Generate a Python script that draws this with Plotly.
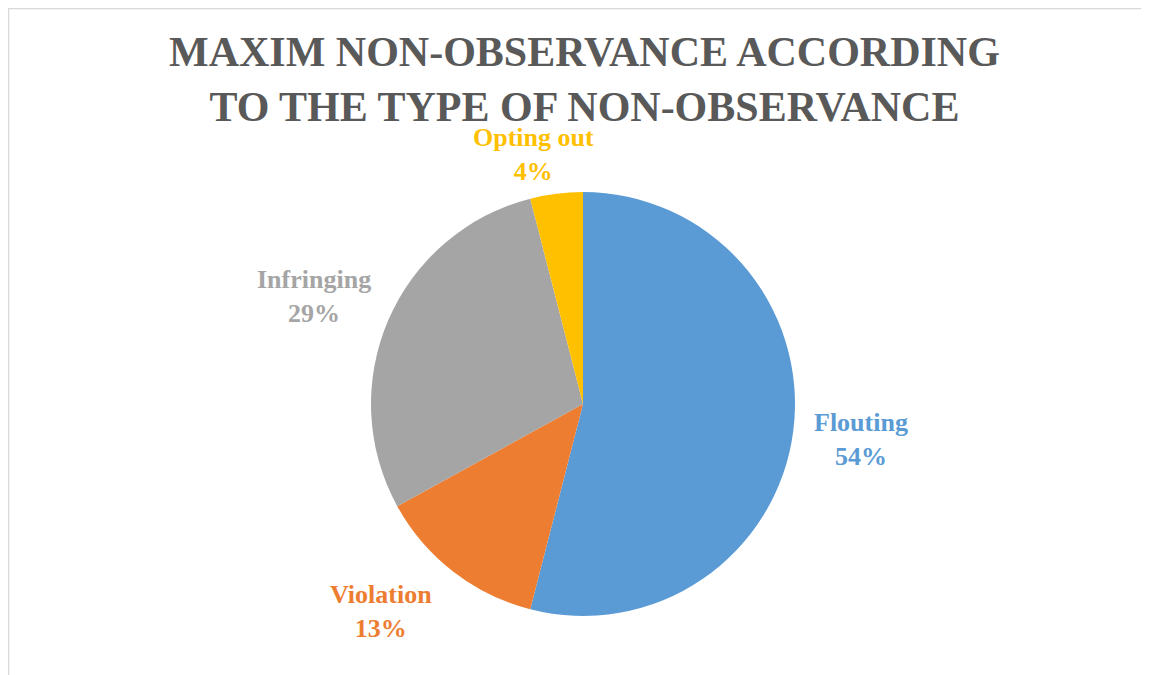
import math
import plotly.graph_objects as go

# ---- data ----
categories = ["Flouting", "Violation", "Infringing", "Opting out"]
values = [54, 13, 29, 4]
colors = ["#5B9BD5", "#ED7D31", "#A5A5A5", "#FFC000"]
title_text = "MAXIM NON-OBSERVANCE ACCORDING<br>TO THE TYPE OF NON-OBSERVANCE"

# ---- layout constants (pixels, relative to the figure) ----
W, H = 1149, 675
CX, CY, R = 575, 396, 212
label_dist = [280, 289, 290, 256]
label_nudge = [(0, 0), (-25, -21), (-2.5, 8), (-17, 4)]

fig = go.Figure()
fig.add_trace(go.Pie(
    labels=categories,
    values=values,
    sort=False,
    direction="clockwise",
    rotation=0,
    marker=dict(colors=colors, line=dict(width=0)),
    textinfo="none",
    hoverinfo="label+percent",
    showlegend=False,
    domain=dict(x=[(CX - R) / W, (CX + R) / W], y=[1 - (CY + R) / H, 1 - (CY - R) / H]),
))

total = sum(values)
cum = 0
annotations = []
for i, (cat, v, col) in enumerate(zip(categories, values, colors)):
    mid = (cum + v / 2) / total * 2 * math.pi
    cum += v
    dx, dy = math.sin(mid), -math.cos(mid)
    px = CX + label_dist[i] * dx + label_nudge[i][0]
    py = CY + label_dist[i] * dy + label_nudge[i][1]
    pct = round(v / total * 100)
    annotations.append(dict(
        x=px / W, y=1 - py / H, xref="paper", yref="paper",
        text=f"{cat}<br>{pct}%", showarrow=False,
        xanchor="center", yanchor="middle", align="center",
        font=dict(family="Liberation Serif", size=26, color=col, weight="bold"),
    ))

fig.update_layout(
    width=W, height=H,
    margin=dict(l=0, r=0, t=0, b=0),
    paper_bgcolor="white",
    plot_bgcolor="white",
    title=dict(
        text=title_text,
        x=0.5017, xanchor="center",
        y=1 - 58 / H, yanchor="top", yref="container",
        font=dict(family="Liberation Serif", size=42, color="#595959", weight="bold"),
    ),
    annotations=annotations,
    shapes=[dict(
        type="rect", xref="paper", yref="paper",
        x0=0.3 / W, y0=-0.05, x1=1.05, y1=1 - 0.3 / H,
        line=dict(color="#D9D9D9", width=2),
        fillcolor="rgba(0,0,0,0)", layer="below",
    )],
)

fig.write_html("out.html")
